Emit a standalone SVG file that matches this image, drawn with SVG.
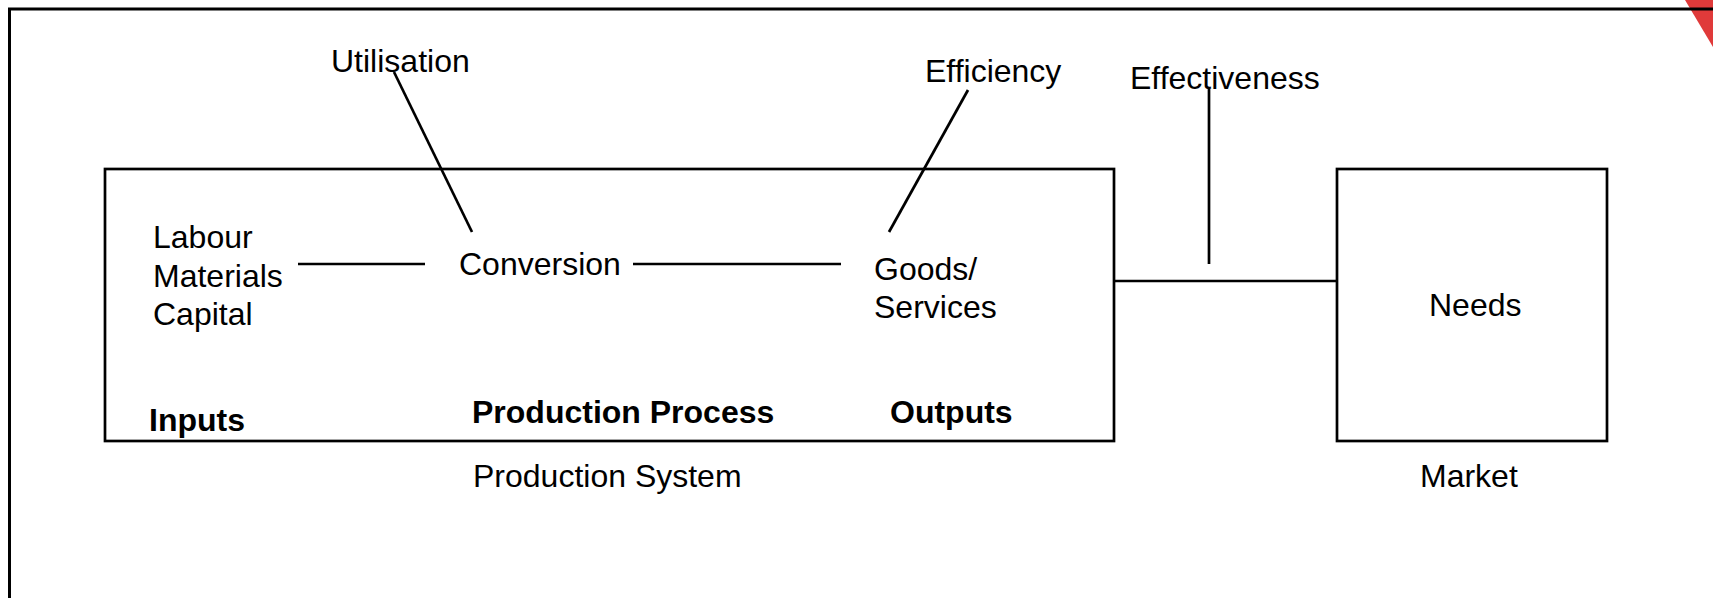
<svg xmlns="http://www.w3.org/2000/svg" width="1713" height="598" viewBox="0 0 1713 598">
<style>
text{font-family:"Liberation Sans",Arial,sans-serif;font-size:32px;fill:#000}
.b{font-weight:bold}
.box{fill:none;stroke:#000;stroke-width:2.7}
.ln{stroke:#000;stroke-width:2.7;fill:none}
</style>
<rect width="1713" height="598" fill="#fff"/>
<polygon points="1685,0 1713,0 1713,47" fill="#e03a3a"/>
<g id="frame"><path d="M9.5,598 V9 H1713" fill="none" stroke="#000" stroke-width="3"/></g>
<g id="production-system">
<rect class="box" x="105" y="169" width="1009" height="272"/>
<text x="473" y="487">Production System</text>
</g>
<g id="market">
<rect class="box" x="1337" y="169" width="270" height="272"/>
<text x="1429" y="316">Needs</text>
<text x="1420" y="487">Market</text>
</g>
<g id="inputs">
<text x="153" y="248">Labour</text>
<text x="153" y="287">Materials</text>
<text x="153" y="325">Capital</text>
<text class="b" x="149" y="431">Inputs</text>
</g>
<g id="process">
<text x="459" y="275">Conversion</text>
<text class="b" x="472" y="423">Production Process</text>
</g>
<g id="outputs">
<text x="874" y="280">Goods/</text>
<text x="874" y="318">Services</text>
<text class="b" x="890" y="423">Outputs</text>
</g>
<g id="utilisation"><text x="331" y="72">Utilisation</text></g>
<g id="efficiency"><text x="925" y="82">Efficiency</text></g>
<g id="effectiveness"><text x="1130" y="89">Effectiveness</text></g>
<g id="connectors">
<line class="ln" x1="298" y1="264" x2="425" y2="264"/>
<line class="ln" x1="633" y1="264" x2="841" y2="264"/>
<line class="ln" x1="1114" y1="281" x2="1337" y2="281"/>
<line class="ln" x1="394" y1="72" x2="472" y2="232"/>
<line class="ln" x1="968" y1="90" x2="889" y2="232"/>
<line class="ln" x1="1209" y1="89" x2="1209" y2="264"/>
</g>
</svg>
